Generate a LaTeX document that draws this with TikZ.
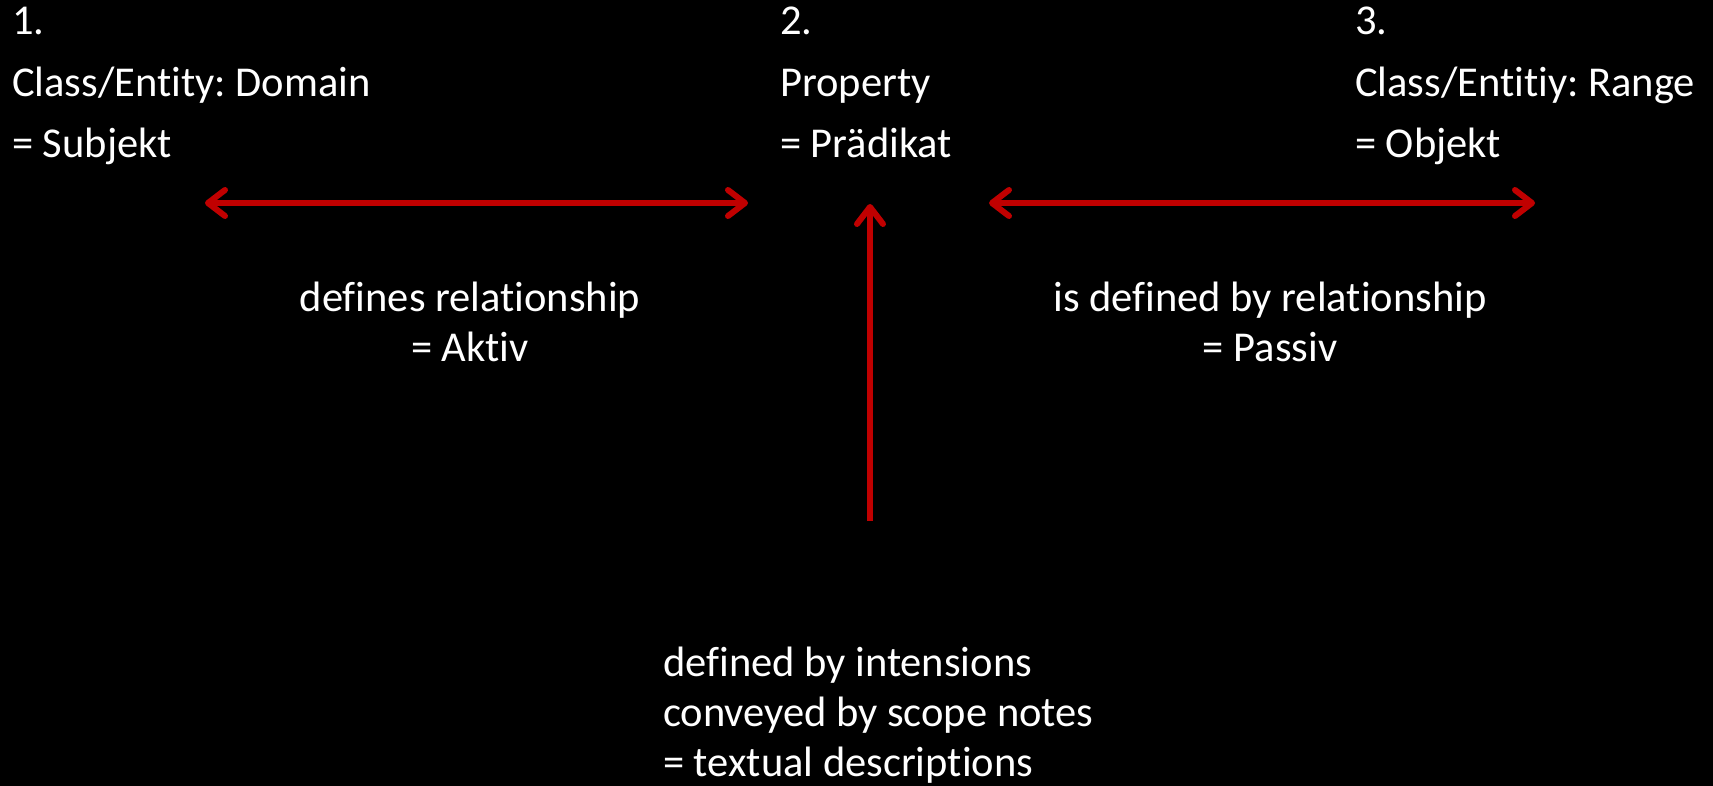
\documentclass[tikz,border=0pt]{standalone}
\usepackage{fontspec}
\setmainfont{Carlito}[Ligatures={NoCommon}]
\usetikzlibrary{positioning,arrows.meta}
\definecolor{relred}{HTML}{C00000}
\frenchspacing

\begin{document}
\begin{tikzpicture}[x=1pt,y=-1pt,
  head/.style={text=white,font=\fontsize{42.5}{61.5}\selectfont,align=left,anchor=base west,inner sep=0pt},
  note/.style={text=white,font=\fontsize{42.5}{50}\selectfont,align=center,anchor=base,inner sep=0pt},
  rel/.style={draw=relred,line width=6pt,>={Straight Barb[round,length=17pt,width=26pt]}}]
%
\useasboundingbox (0,0) rectangle (1713,786);
\fill[black] (0,0) rectangle (1713,786);
%
\node[head] (subj) at (12,158) {1.\\Class/Entity: Domain\\= Subjekt};
\node[head] (pred) at (780,158) {2.\\Property\\= Prädikat};
\node[head] (obj) at (1355,158) {3.\\Class/Entitiy: Range\\= Objekt};
%
\node[note] (aktiv) at (470,361) {defines relationship\\= Aktiv};
\node[note] (passiv) at (1270,361) {is defined by relationship\\= Passiv};
\node[note,align=left,anchor=base west] (intens) at (663,776) {defined by intensions\\conveyed by scope notes\\= textual descriptions};
%
\coordinate (aL) at (205,203);
\coordinate (aR) at (748,203);
\coordinate (pL) at (989,203);
\coordinate (pR) at (1535,203);
\coordinate (iB) at (870,521);
\coordinate (iT) at (870,204);
%
\draw[rel,<->] (aL) -- (aR);
\draw[rel,<->] (pL) -- (pR);
\draw[rel,->] (iB) -- (iT);
\end{tikzpicture}
\end{document}
